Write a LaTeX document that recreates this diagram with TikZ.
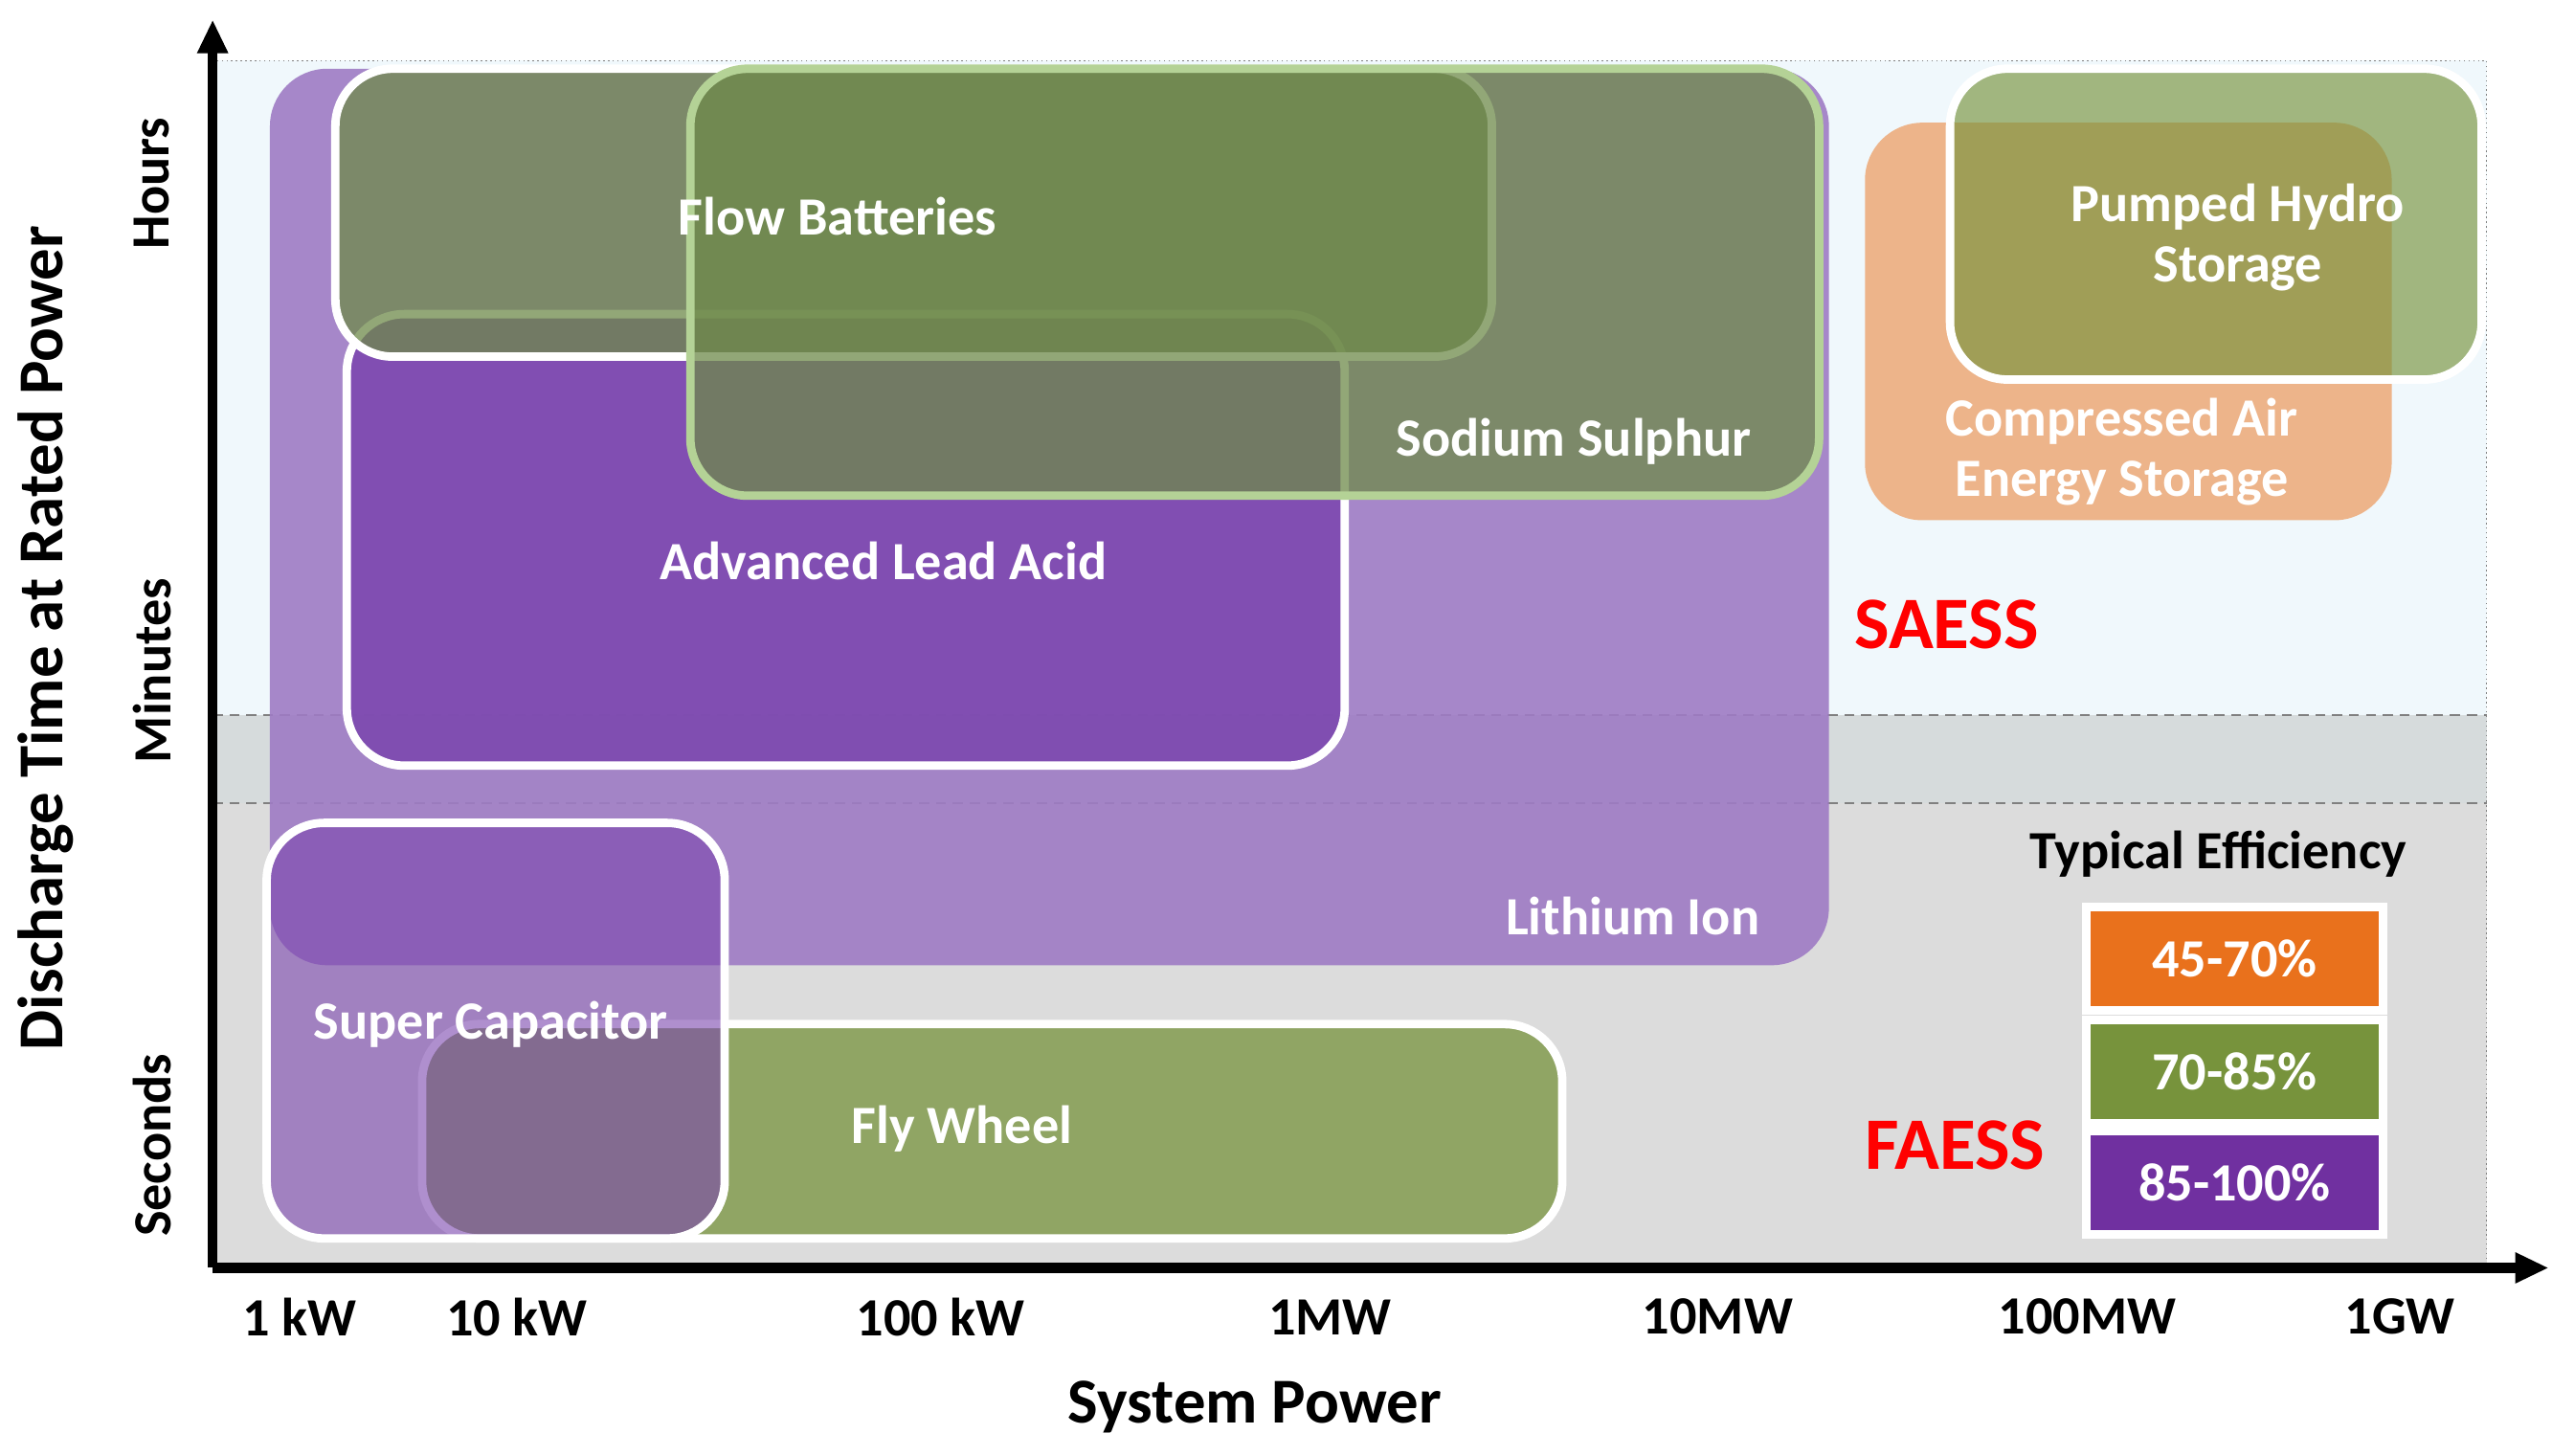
\documentclass[tikz,border=0pt]{standalone}
\usepackage{fontspec}
\setmainfont{Carlito}
\usetikzlibrary{arrows.meta}
\definecolor{lipurple}{HTML}{9E7BC4}
\definecolor{leadpurple}{HTML}{7B45AE}
\definecolor{fbgreen}{HTML}{6E8A4A}
\definecolor{caorange}{HTML}{EDB48A}
\definecolor{effor}{HTML}{E9711C}
\definecolor{effgr}{HTML}{77933C}
\definecolor{effpu}{HTML}{7030A0}
\begin{document}
\begin{tikzpicture}[x=0.01709cm,y=-0.01709cm,font=\bfseries,
  box/.style={draw=white,line width=2.5pt,rounded corners=0.6cm},
  lab/.style={text=white,font=\bfseries\fontsize{16}{18}\selectfont,align=center},
  tick/.style={font=\bfseries\fontsize{16}{18}\selectfont},
  eff/.style={draw=white,line width=2.5pt,minimum width=3.1cm,minimum height=1.08cm,text=white,font=\bfseries\fontsize{16}{18}\selectfont}]
\useasboundingbox (0,0) rectangle (1560,890);
% background
\fill[fill={rgb,255:red,240;green,248;blue,252}] (130,37) rectangle (1520,437);
\fill[fill={rgb,255:red,214;green,219;blue,220}] (130,437) rectangle (1520,491);
\fill[fill={rgb,255:red,220;green,220;blue,220}] (130,491) rectangle (1520,775);
\draw[densely dotted,gray] (130,37) rectangle (1520,775);
\draw[densely dashed,gray] (130,437) -- (1520,437) (130,491) -- (1520,491);
% lithium ion
\fill[lipurple,fill opacity=0.9,rounded corners=0.6cm] (165,42) rectangle (1118,590);
% fly wheel
\draw[box,fill=effgr,fill opacity=0.75] (258,626) rectangle (955,757);
% super capacitor
\draw[box,fill=leadpurple,fill opacity=0.6] (163,503) rectangle (443,757);
% advanced lead acid
\draw[box,fill=leadpurple,fill opacity=0.85] (212,192) rectangle (822,468);
% flow batteries and sodium sulphur
\draw[box,fill=fbgreen,fill opacity=0.75] (205,42) rectangle (912,218);
\draw[box,draw={rgb,255:red,180;green,210;blue,150},fill=fbgreen,fill opacity=0.75] (422,42) rectangle (1112,303);
% CAES and pumped hydro
\fill[caorange,rounded corners=0.6cm] (1140,75) rectangle (1462,318);
\draw[box,fill=effgr,fill opacity=0.65] (1192,42) rectangle (1517,232);
% labels
\node[lab] (fb) at (512,132) {Flow Batteries};
\node[lab] (ns) at (962,270) {Sodium Sulphur};
\node[lab] (la) at (540,343) {Advanced Lead Acid};
\node[lab] (li) at (998,560) {Lithium Ion};
\node[lab] (sc) at (300,626) {Super Capacitor};
\node[lab] (fw) at (588,690) {Fly Wheel};
\node[lab] (ph) at (1368,145) {Pumped Hydro\\Storage};
\node[lab] (ca) at (1297,276) {Compressed Air\\Energy Storage};
\node[text=red,font=\bfseries\fontsize{22}{24}\selectfont] (sa) at (1190,382) {SAESS};
\node[text=red,font=\bfseries\fontsize{22}{24}\selectfont] (fa) at (1195,700) {FAESS};
\node[tick] (te) at (1356,522) {Typical Efficiency};
\node[eff,fill=effor] (e1) at (1366,586) {45-70\%};
\node[eff,fill=effgr] (e2) at (1366,655) {70-85\%};
\node[eff,fill=effpu] (e3) at (1366,723) {85-100\%};
% axes
\coordinate (o) at (130,775);
\coordinate (yt) at (130,12);
\coordinate (xt) at (1558,775);
\draw[line width=3pt,-{Triangle[length=0.35cm,width=0.3cm]}] (o) -- (yt);
\draw[line width=3pt,-{Triangle[length=0.35cm,width=0.3cm]}] (o) -- (xt);
\foreach \x/\t in {183/1 kW,316/10 kW,575/100 kW,813/1MW,1050/10MW,1276/100MW,1467/1GW}
  \node[tick] at (\x,805) {\t};
\node[font=\bfseries\fontsize{19}{21}\selectfont] (xl) at (767,860) {System Power};
\foreach \y/\t in {112/Hours,410/Minutes,700/Seconds}
  \node[tick,rotate=90] at (93,\y) {\t};
\node[font=\bfseries\fontsize{19}{21}\selectfont,rotate=90] (yl) at (28,390) {Discharge Time at Rated Power};
\end{tikzpicture}
\end{document}
